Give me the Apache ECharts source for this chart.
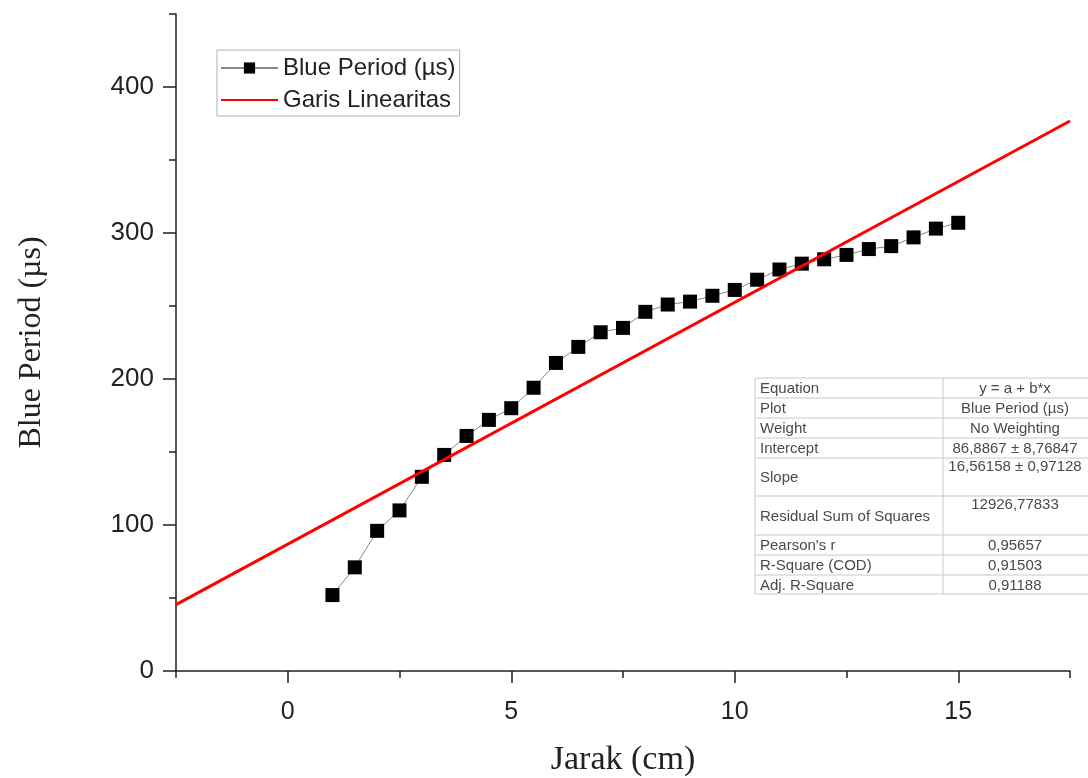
<!DOCTYPE html>
<html lang="en">
<head>
    <meta charset="UTF-8">
    <title>Blue Period vs Jarak</title>
    <script src="https://cdn.jsdelivr.net/npm/echarts@6/dist/echarts.min.js"></script>
    <style>
        html, body { margin: 0; padding: 0; background: #fff; }
        #charts { width: 1088px; height: 778px; }
    </style>
</head>
<body>
<div id="charts"></div>

<script>
    // data
    var jarak = [1, 1.5, 2, 2.5, 3, 3.5, 4, 4.5, 5, 5.5, 6, 6.5, 7, 7.5, 8, 8.5, 9, 9.5,
                 10, 10.5, 11, 11.5, 12, 12.5, 13, 13.5, 14, 14.5, 15];
    var bluePeriod = [52, 71, 96, 110, 133, 148, 161, 172, 180, 194, 211, 222, 232, 235, 246, 251, 253, 257,
                      261, 268, 275, 279, 282, 285, 289, 291, 297, 303, 307];
    // fit line end points
    var fitX = [-2.5, 17.5];
    var fitY = [45.5, 376.7];

    var xMajor = [0, 5, 10, 15];
    var xMinor = [-2.5, 2.5, 7.5, 12.5, 17.5];
    var yMajor = [0, 100, 200, 300, 400];
    var yMinor = [50, 150, 250, 350, 450];

    var tableLabels = ['Equation', 'Plot', 'Weight', 'Intercept', 'Slope',
                       'Residual Sum of Squares', "Pearson's r", 'R-Square (COD)', 'Adj. R-Square'];
    var tableValues = ['y = a + b*x', 'Blue Period (\u00b5s)', 'No Weighting', '86,8867 \u00b1 8,76847',
                       '16,56158 \u00b1 0,97128', '12926,77833', '0,95657', '0,91503', '0,91188'];

    var axisColor = '#222';
    var myChart = echarts.init(document.getElementById('charts'));

    // stats table (graphic)
    var rowY = [378, 398, 418, 438, 458, 496, 535, 555, 575, 594];
    var tL = 755, tM = 943, tR = 1092;
    var gfx = [{
        type: 'rect', shape: {x: tL, y: rowY[0], width: tR - tL, height: rowY[9] - rowY[0]},
        style: {fill: '#fff', stroke: '#c8c8c8', lineWidth: 1}, z: 10
    }, {
        type: 'line', shape: {x1: tM, y1: rowY[0], x2: tM, y2: rowY[9]},
        style: {stroke: '#c8c8c8', lineWidth: 1}, z: 11
    }];
    for (var i = 1; i < 9; i++) {
        gfx.push({type: 'line', shape: {x1: tL, y1: rowY[i], x2: tR, y2: rowY[i]},
            style: {stroke: '#c8c8c8', lineWidth: 1}, z: 11});
    }
    for (var j = 0; j < 9; j++) {
        var mid = (rowY[j] + rowY[j + 1]) / 2;
        var tall = rowY[j + 1] - rowY[j] > 30;
        gfx.push({type: 'text', x: tL + 5, y: mid + 1, z: 12,
            style: {text: tableLabels[j], font: '15px "Liberation Sans"', fill: '#4a4a4a', verticalAlign: 'middle'}});
        gfx.push({type: 'text', x: 1015, y: tall ? rowY[j] + 9 : mid + 1, z: 12,
            style: {text: tableValues[j], font: '15px "Liberation Sans"', fill: '#4a4a4a',
                align: 'center', verticalAlign: 'middle'}});
    }

    var option = {
        backgroundColor: '#fff',
        animation: false,
        grid: {left: 176, right: 18, top: 14, bottom: 107, containLabel: false, outerBoundsMode: 'none'},
        legend: {
            left: 217, top: 50, orient: 'vertical',
            borderColor: '#b0b0b0', borderWidth: 1,
            padding: [6, 4, 4, 3], itemGap: 8,
            itemWidth: 57, itemHeight: 14,
            textStyle: {fontSize: 24, color: '#222', fontFamily: 'Liberation Sans'},
            data: [
                {name: 'Blue Period (\u00b5s)'},
                {name: 'Garis Linearitas', itemStyle: {opacity: 0}}
            ]
        },
        xAxis: [{
            type: 'value', min: -2.5, max: 17.5, interval: 2.5, position: 'bottom',
            axisLine: {onZero: false, lineStyle: {color: axisColor, width: 1.5}},
            axisTick: {customValues: xMajor, length: 12, lineStyle: {color: axisColor, width: 1.5}},
            axisLabel: {customValues: xMajor, fontSize: 25, color: '#222', margin: 29, fontFamily: 'Liberation Sans'},
            splitLine: {show: false},
            name: 'Jarak (cm)', nameLocation: 'middle', nameGap: 72,
            nameTextStyle: {fontFamily: 'Liberation Serif', fontSize: 34, color: '#222'}
        }, {
            type: 'value', min: -2.5, max: 17.5, interval: 2.5, position: 'bottom',
            axisLine: {show: false, onZero: false},
            axisTick: {customValues: xMinor, length: 7, lineStyle: {color: axisColor, width: 1.5}},
            axisLabel: {show: false},
            splitLine: {show: false}
        }],
        yAxis: [{
            type: 'value', min: 0, max: 450, interval: 50, position: 'left',
            axisLine: {show: true, onZero: false, lineStyle: {color: axisColor, width: 1.5}},
            axisTick: {show: true, customValues: yMajor, length: 13, lineStyle: {color: axisColor, width: 1.5}},
            axisLabel: {customValues: yMajor, fontSize: 26, color: '#222', margin: 22, fontFamily: 'Liberation Sans'},
            splitLine: {show: false},
            name: 'Blue Period (\u00b5s)', nameLocation: 'middle', nameGap: 128,
            nameTextStyle: {fontFamily: 'Liberation Serif', fontSize: 32, color: '#222'}
        }, {
            type: 'value', min: 0, max: 450, interval: 50, position: 'left',
            axisLine: {show: false, onZero: false},
            axisTick: {show: true, customValues: yMinor, length: 7, lineStyle: {color: axisColor, width: 1.5}},
            axisLabel: {show: false},
            splitLine: {show: false}
        }],
        series: [{
            name: 'Blue Period (\u00b5s)', type: 'line',
            data: jarak.map(function (x, k) { return [x, bluePeriod[k]]; }),
            symbol: 'rect', symbolSize: 14,
            itemStyle: {color: '#000'},
            lineStyle: {color: '#888', width: 1},
            z: 3
        }, {
            name: 'Garis Linearitas', type: 'line',
            data: fitX.map(function (x, k) { return [x, fitY[k]]; }),
            symbol: 'none',
            itemStyle: {color: '#ff0000'},
            lineStyle: {color: '#ff0000', width: 3},
            z: 4
        }],
        graphic: gfx
    };

    myChart.setOption(option);
</script>
</body>
</html>
